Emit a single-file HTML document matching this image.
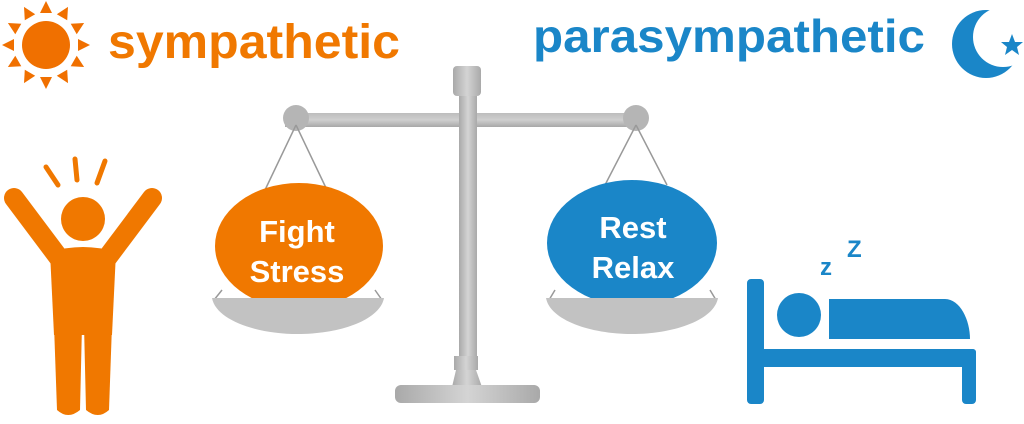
<!DOCTYPE html>
<html><head><meta charset="utf-8"><style>
html,body{margin:0;padding:0;background:#fff;}
svg{display:block}
</style></head><body>
<svg width="1024" height="424" viewBox="0 0 1024 424" xmlns="http://www.w3.org/2000/svg">
<defs>
<linearGradient id="g" x1="0" x2="1" y1="0" y2="0">
<stop offset="0" stop-color="#a9a9a9"/><stop offset="0.5" stop-color="#d4d4d4"/><stop offset="1" stop-color="#a9a9a9"/>
</linearGradient>
<linearGradient id="gv" x1="0" x2="0" y1="0" y2="1">
<stop offset="0" stop-color="#bdbdbd"/><stop offset="0.5" stop-color="#cfcfcf"/><stop offset="1" stop-color="#a8a8a8"/>
</linearGradient>
<mask id="moon">
<rect x="900" y="0" width="124" height="100" fill="#fff"/>
<circle cx="1003" cy="37" r="30" fill="#000"/>
</mask>
</defs>
<!-- sun -->
<g fill="#f07000">
<circle cx="46" cy="45" r="24"/>
<g id="ray"><polygon points="40,13 52,13 46,1"/></g>
<use href="#ray" transform="rotate(30 46 45)"/><use href="#ray" transform="rotate(60 46 45)"/>
<use href="#ray" transform="rotate(90 46 45)"/><use href="#ray" transform="rotate(120 46 45)"/>
<use href="#ray" transform="rotate(150 46 45)"/><use href="#ray" transform="rotate(180 46 45)"/>
<use href="#ray" transform="rotate(210 46 45)"/><use href="#ray" transform="rotate(240 46 45)"/>
<use href="#ray" transform="rotate(270 46 45)"/><use href="#ray" transform="rotate(300 46 45)"/>
<use href="#ray" transform="rotate(330 46 45)"/>
</g>
<text x="108" y="58" font-family="Liberation Sans, sans-serif" font-weight="bold" font-size="48" fill="#f07800" textLength="292" lengthAdjust="spacingAndGlyphs">sympathetic</text>
<text x="533" y="52" font-family="Liberation Sans, sans-serif" font-weight="bold" font-size="46" fill="#1a86c8" textLength="392" lengthAdjust="spacingAndGlyphs">parasympathetic</text>
<!-- moon -->
<circle cx="986" cy="44" r="34" fill="#1a86c8" mask="url(#moon)"/>
<polygon fill="#1a86c8" points="1012,34 1015,42 1023,42 1017,47 1019,55 1012,50 1005,55 1007,47 1001,42 1009,42"/>
<!-- person -->
<g fill="#f07800">
<circle cx="83" cy="219" r="22"/>
<path d="M50,252 Q83,242 116,252 L112,335 L54,335 Z"/>
<path d="M54,325 L82,325 L80,410 Q68,420 57,410 Z"/>
<path d="M84,325 L112,325 L109,410 Q98,420 86,410 Z"/>
</g>
<g stroke="#f07800" stroke-width="20" stroke-linecap="round">
<line x1="14" y1="198" x2="62" y2="262"/><line x1="152" y1="198" x2="104" y2="262"/>
</g>
<g stroke="#f07800" stroke-width="5" stroke-linecap="round">
<line x1="46" y1="167" x2="58" y2="185"/><line x1="75" y1="159" x2="77" y2="180"/><line x1="105" y1="161" x2="97" y2="183"/>
</g>
<!-- scale -->
<rect x="285" y="113" width="355" height="14" fill="url(#gv)"/>
<rect x="459" y="80" width="18" height="280" fill="url(#g)"/>
<rect x="453" y="66" width="28" height="30" rx="4" fill="url(#g)"/>
<rect x="454" y="356" width="24" height="14" fill="url(#g)"/>
<path d="M456,370 L476,370 L482,387 L452,387 Z" fill="url(#g)"/>
<rect x="395" y="385" width="145" height="18" rx="6" fill="url(#g)"/>
<circle cx="296" cy="118" r="13" fill="#b5b5b5"/>
<circle cx="636" cy="118" r="13" fill="#b5b5b5"/>
<g stroke="#999" stroke-width="1.5" fill="none">
<line x1="296" y1="125" x2="265" y2="190"/><line x1="296" y1="125" x2="327" y2="190"/>
<line x1="636" y1="125" x2="605" y2="185"/><line x1="636" y1="125" x2="667" y2="185"/>
<line x1="222" y1="290" x2="214" y2="300"/><line x1="375" y1="290" x2="382" y2="300"/>
<line x1="555" y1="290" x2="549" y2="300"/><line x1="710" y1="290" x2="716" y2="300"/>
</g>
<ellipse cx="299" cy="246" rx="84" ry="63" fill="#f07800"/>
<path d="M212,298 L384,298 C380,320 340,334 298,334 C256,334 216,320 212,298 Z" fill="#c2c2c2"/>
<ellipse cx="632" cy="243" rx="85" ry="63" fill="#1a86c8"/>
<path d="M546,298 L718,298 C714,320 674,334 632,334 C590,334 550,320 546,298 Z" fill="#c2c2c2"/>
<g font-family="Liberation Sans, sans-serif" font-weight="bold" font-size="31" fill="#fff" text-anchor="middle">
<text x="297" y="242">Fight</text><text x="297" y="282">Stress</text>
<text x="633" y="238">Rest</text><text x="633" y="278">Relax</text>
</g>
<!-- bed -->
<g fill="#1a86c8">
<rect x="747" y="279" width="17" height="125" rx="4"/>
<rect x="747" y="349" width="229" height="18" rx="3"/>
<rect x="962" y="349" width="14" height="55" rx="4"/>
<circle cx="799" cy="315" r="22"/>
<path d="M829,299 L945,299 C960,299 970,320 970,339 L829,339 Z"/>
</g>
<g font-family="Liberation Sans, sans-serif" font-weight="bold" fill="#1a86c8">
<text x="820" y="275" font-size="24">z</text>
<text x="847" y="257" font-size="24">Z</text>
</g>
</svg>
</body></html>
